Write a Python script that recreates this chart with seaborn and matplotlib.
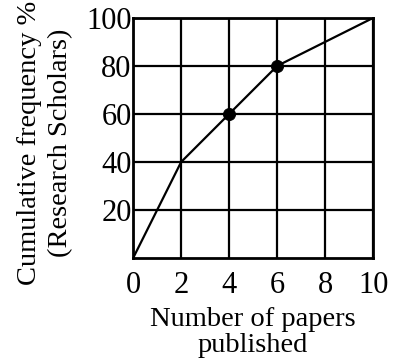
import matplotlib
matplotlib.use('Agg')
import matplotlib.pyplot as plt
import pandas as pd
import seaborn as sns

papers = [0, 2, 4, 6, 10]
cum_freq = [0, 40, 60, 80, 100]
marked_papers = [4, 6]
marked_freq = [60, 80]
x_ticks = [0, 2, 4, 6, 8, 10]
y_ticks = [20, 40, 60, 80, 100]

df = pd.DataFrame({'papers': papers, 'cum': cum_freq})
marks = pd.DataFrame({'papers': marked_papers, 'cum': marked_freq})

sns.set_theme(style="white")
plt.rcParams['font.family'] = ['Liberation Serif', 'DejaVu Serif']

fig = plt.figure(figsize=(3.95, 3.64), dpi=100)
ax = fig.add_axes([0.337, 0.291, 0.608, 0.66])

sns.lineplot(data=df, x='papers', y='cum', color='black', linewidth=1.6, ax=ax)
sns.scatterplot(data=marks, x='papers', y='cum', color='black', s=75, edgecolor='black', zorder=5, ax=ax)

ax.set_xlim(0, 10)
ax.set_ylim(0, 100)
ax.set_xticks(x_ticks)
ax.set_yticks(y_ticks)
ax.grid(True, color='black', linewidth=1.6)
for s in ax.spines.values():
    s.set_color('black')
    s.set_linewidth(2)
ax.tick_params(axis='both', length=0, labelsize=22, colors='black')
ax.tick_params(axis='x', pad=9)
ax.tick_params(axis='y', pad=1)

ax.set_xlabel('Number of papers\npublished', fontsize=20.5, color='black', linespacing=1.08, labelpad=5)
ax.set_ylabel('Cumulative frequency %\n(Research Scholars)', fontsize=20.5, color='black', linespacing=1.3)
ax.yaxis.set_label_coords(-0.25, 0.48)

fig.savefig('out.png', dpi=100)
